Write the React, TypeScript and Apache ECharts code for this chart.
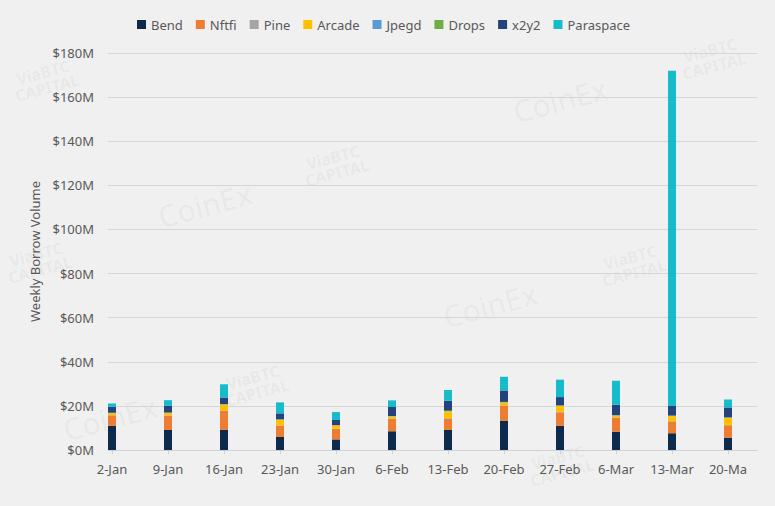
import React, { useEffect, useRef } from "react";
import * as echarts from "echarts";

const categories = ["2-Jan", "9-Jan", "16-Jan", "23-Jan", "30-Jan", "6-Feb", "13-Feb", "20-Feb", "27-Feb", "6-Mar", "13-Mar", "20-Mar"];
const bend = [11.0, 9.1, 9.2, 5.9, 4.8, 8.5, 9.1, 13.3, 11.0, 8.3, 7.6, 5.6];
const nftfi = [4.7, 6.5, 8.5, 5.0, 4.8, 5.7, 5.1, 6.8, 6.1, 6.4, 5.3, 5.6];
const pine = [0.1, 0.1, 0.2, 0.1, 0.1, 0.1, 0.2, 0.1, 0.2, 0.1, 0.2, 0.1];
const arcade = [0.9, 1.1, 2.7, 2.7, 1.4, 0.9, 3.2, 1.4, 2.7, 0.8, 2.3, 3.3];
const jpegd = [0.1, 0.1, 0.1, 0.1, 0.1, 0.1, 0.1, 0.1, 0.1, 0.1, 0.1, 0.1];
const drops = [0.1, 0.1, 0.1, 0.1, 0.1, 0.1, 0.1, 0.1, 0.1, 0.1, 0.1, 0.1];
const x2y2 = [2.7, 3.0, 3.0, 2.7, 2.3, 4.1, 4.5, 5.2, 3.8, 4.7, 4.4, 4.5];
const paraspace = [1.5, 2.6, 6.0, 5.0, 3.6, 3.0, 4.9, 6.2, 7.9, 10.9, 152.0, 3.6];

const seriesNames = ["Bend", "Nftfi", "Pine", "Arcade", "Jpegd", "Drops", "x2y2", "Paraspace"];
const seriesData = [bend, nftfi, pine, arcade, jpegd, drops, x2y2, paraspace];
const colors = ["#0D2A4C", "#ED7D31", "#A5A5A5", "#FFC000", "#5B9BD5", "#70AD47", "#24437A", "#17BCCB"];

const FONT = "'Noto Sans', sans-serif";
const TXT = "#595959";

const watermarks = [
  { t: "CoinEx", x: 205, y: 205, s: 30, w: "normal" },
  { t: "CoinEx", x: 110, y: 418, s: 30, w: "normal" },
  { t: "CoinEx", x: 560, y: 100, s: 30, w: "normal" },
  { t: "CoinEx", x: 490, y: 305, s: 30, w: "normal" },
  { t: "ViaBTC\nCAPITAL", x: 335, y: 165, s: 16, w: "bold" },
  { t: "ViaBTC\nCAPITAL", x: 712, y: 58, s: 16, w: "bold" },
  { t: "ViaBTC\nCAPITAL", x: 632, y: 265, s: 16, w: "bold" },
  { t: "ViaBTC\nCAPITAL", x: 255, y: 385, s: 16, w: "bold" },
  { t: "ViaBTC\nCAPITAL", x: 560, y: 465, s: 16, w: "bold" },
  { t: "ViaBTC\nCAPITAL", x: 45, y: 80, s: 16, w: "bold" },
  { t: "ViaBTC\nCAPITAL", x: 38, y: 262, s: 16, w: "bold" },
];

export default function App() {
  const ref = useRef<HTMLDivElement>(null);
  useEffect(() => {
    document.body.style.margin = "0";
    const chart = echarts.init(ref.current!, null, { renderer: "svg" });
    const option: any = {
      animation: false,
      backgroundColor: "#F0F0F0",
      textStyle: { fontFamily: FONT },
      legend: {
        top: 13,
        left: 132,
        itemWidth: 9,
        itemHeight: 9,
        itemGap: 13,
        icon: "rect",
        textStyle: { color: TXT, fontSize: 13, fontFamily: FONT },
        data: seriesNames,
      },
      graphic: watermarks.map((w) => ({
        type: "text",
        x: w.x,
        y: w.y,
        rotation: 0.26,
        silent: true,
        z: -10,
        style: {
          text: w.t,
          fill: "rgba(0,0,0,0.055)",
          font: `${w.w} ${w.s}px ${FONT}`,
          align: "center",
          verticalAlign: "middle",
        },
      })),
      grid: [
        { left: 84, right: 19, top: 53, bottom: 56 },
        { left: 108, right: 18, top: 53, bottom: 56 },
      ],
      xAxis: [
        {
          type: "category",
          gridIndex: 0,
          data: categories,
          boundaryGap: true,
          axisLine: { show: false },
          axisTick: { show: true, alignWithLabel: true, length: 4, lineStyle: { color: "#D0D0D0" } },
          axisLabel: {
            color: TXT,
            fontSize: 13,
            fontFamily: FONT,
            margin: 12,
            interval: 0,
            formatter: (v: string, i: number) => (i === categories.length - 1 ? v.slice(0, 5) : v),
          },
        },
        {
          type: "category",
          gridIndex: 1,
          data: categories,
          axisLine: { show: true, lineStyle: { color: "#D0D0D0", width: 1 } },
          axisTick: { show: false },
          axisLabel: { show: false },
        },
      ],
      yAxis: [
        { type: "value", gridIndex: 0, min: 0, max: 180, interval: 20, show: false },
        {
          type: "value",
          gridIndex: 1,
          min: 0,
          max: 180,
          interval: 20,
          name: "Weekly Borrow Volume",
          nameLocation: "middle",
          nameGap: 64,
          nameTextStyle: { color: TXT, fontSize: 13, fontFamily: FONT },
          axisLine: { show: false },
          axisTick: { show: false },
          splitLine: { lineStyle: { color: "#D6D6D6", width: 1 } },
          axisLabel: {
            color: TXT,
            fontSize: 13,
            fontFamily: FONT,
            margin: 14,
            formatter: (v: number) => "$" + v + "M",
          },
        },
      ],
      series: seriesNames.map((name, i) => ({
        name,
        type: "bar",
        stack: "total",
        xAxisIndex: 0,
        yAxisIndex: 0,
        barWidth: 8,
        itemStyle: { color: colors[i] },
        data: seriesData[i],
      })),
    };
    chart.setOption(option);
    return () => chart.dispose();
  }, []);
  return <div ref={ref} style={{ width: 775, height: 506 }} />;
}
